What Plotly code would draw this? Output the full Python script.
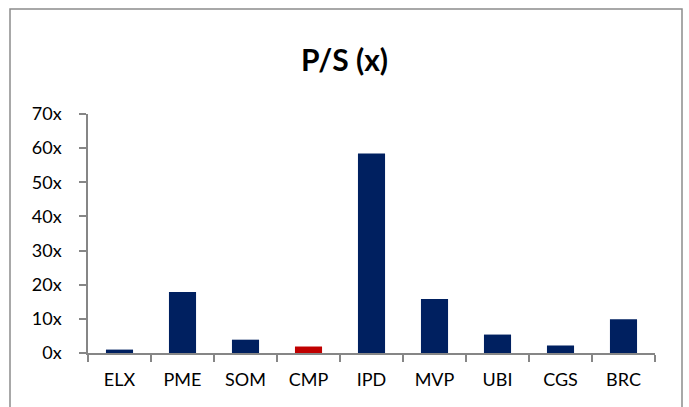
import plotly.graph_objects as go

categories = ["ELX", "PME", "SOM", "CMP", "IPD", "MVP", "UBI", "CGS", "BRC"]
values = [1.0, 17.9, 3.9, 1.9, 58.4, 15.8, 5.4, 2.2, 9.9]
highlight = "CMP"
tick_vals = [0, 10, 20, 30, 40, 50, 60, 70]
tick_text = [f"{v}x" for v in tick_vals]

navy = "#002060"
red = "#C00000"
colors = [red if c == highlight else navy for c in categories]

fig = go.Figure(go.Bar(x=categories, y=values, marker=dict(color=colors, line=dict(width=0)),
                       width=0.43))

W, H = 689, 407
l, r, t, b = 88, 34, 114, 54
pw = W - l - r
ph = H - t - b

fig.update_layout(
    width=W, height=H,
    margin=dict(l=l, r=r, t=t, b=b, autoexpand=False),
    paper_bgcolor="white", plot_bgcolor="white",
    font=dict(family="Lato, Open Sans, sans-serif", size=18, color="#000000"),
    title=dict(text="<b>P/S (x)</b>", x=0.5, xanchor="center", y=(H - 60) / H, yanchor="middle",
               font=dict(size=30, family="Lato, Open Sans, sans-serif", color="#000000")),
    showlegend=False,
    xaxis=dict(showline=True, linecolor="#868686", linewidth=1.5, ticks="outside",
               ticklen=7, tickcolor="#868686", tickwidth=1.5, tickson="boundaries",
               showgrid=False, zeroline=False, range=[-0.5, 8.5], ticklabelstandoff=10,
               automargin=False, fixedrange=True),
    yaxis=dict(showline=True, linecolor="#868686", linewidth=1.5, ticks="outside",
               ticklen=7, tickcolor="#868686", tickwidth=1.5, range=[0, 70],
               tickvals=tick_vals, ticktext=tick_text, showgrid=False, zeroline=False,
               ticklabelstandoff=14, automargin=False, fixedrange=True),
    shapes=[dict(type="rect", xref="paper", yref="paper",
                 x0=(10 - l) / pw, x1=(682 - l) / pw,
                 y0=(H - b - 420) / ph, y1=(H - b - 9) / ph,
                 line=dict(color="#8c8c8c", width=1.5), fillcolor="rgba(0,0,0,0)", layer="below")],
)

fig.write_html("out.html", config={"displayModeBar": False},
               post_script="document.body.style.margin='0';document.body.style.overflow='hidden';")
